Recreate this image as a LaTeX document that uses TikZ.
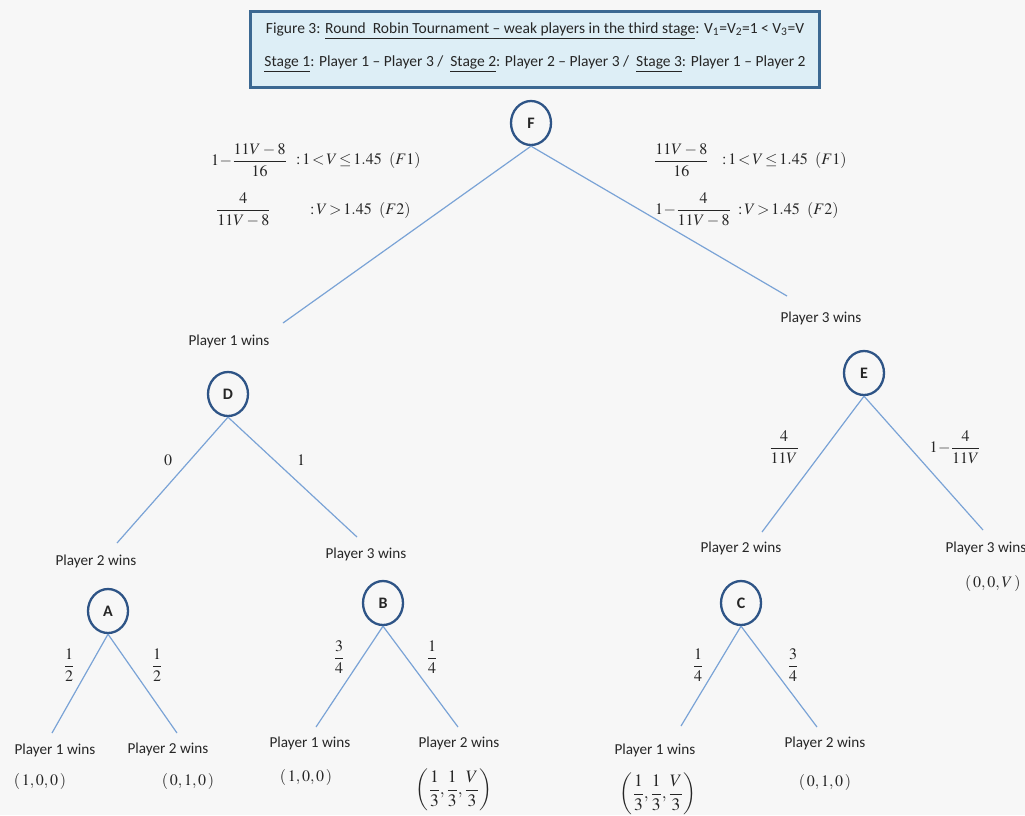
\documentclass[tikz,border=0pt]{standalone}
\usepackage{amsmath}
\usepackage{mathptmx}
\usepackage[no-math]{fontspec}
\setmainfont{Carlito}
\usetikzlibrary{shapes.geometric}
\definecolor{bg}{HTML}{F7F7F7}
\definecolor{circ}{HTML}{2E5486}
\definecolor{edgec}{HTML}{7AA3D6}
\definecolor{txt}{HTML}{262626}
\definecolor{hdrfill}{HTML}{DDEEF6}
\definecolor{hdrline}{HTML}{3B6892}
\begin{document}
\begin{tikzpicture}[x=1pt,y=-1pt,
  state/.style={ellipse, draw=circ, line width=2.3pt, minimum width=40pt, minimum height=44pt, inner sep=0pt, text=txt, font=\fontsize{16}{16}\selectfont\bfseries},
  edge/.style={draw=edgec, line width=1.2pt},
  lbl/.style={font=\fontsize{15.2}{16}\selectfont, text=txt, inner sep=0pt},
  mth/.style={font=\fontsize{16}{18}\selectfont, text=txt, inner sep=0pt},
  big/.style={font=\fontsize{17.5}{19}\selectfont, text=txt, inner sep=0pt},
  hdr/.style={font=\fontsize{15.5}{17}\selectfont, text=txt, inner sep=0pt}]
\fill[bg] (0,0) rectangle (1025,815);
\useasboundingbox (0,0) rectangle (1025,815);

% header
\node[draw=hdrline, fill=hdrfill, line width=3pt, minimum width=569pt, minimum height=76pt, inner sep=0pt] (header) at (534.5,49) {};
\node[hdr, anchor=base] (title1) at (535,33) {Figure 3: \underline{Round\ \ Robin Tournament -- weak players in the third stage}: V\textsubscript{1}=V\textsubscript{2}=1 {\textless} V\textsubscript{3}=V};
\node[hdr, anchor=base] (title2) at (535,66) {\underline{Stage 1}: Player 1 -- Player 3 /\ \ \underline{Stage 2}: Player 2 -- Player 3 /\ \ \underline{Stage 3}: Player 1 -- Player 2};

% states
\node[state] (F) at (531,123) {F};
\node[state] (D) at (228,394) {D};
\node[state] (E) at (864,373) {E};
\node[state] (A) at (108,611) {A};
\node[state] (B) at (383,603) {B};
\node[state] (C) at (741,603) {C};

% free ends
\coordinate (fl) at (283,323);
\coordinate (fr) at (787,296);
\coordinate (dl) at (117,543);
\coordinate (dr) at (357,537);
\coordinate (el) at (762,532);
\coordinate (er) at (983,530);
\coordinate (al) at (52,733);
\coordinate (ar) at (177,733);
\coordinate (bl) at (316,727);
\coordinate (br) at (458,727);
\coordinate (cl) at (681,726);
\coordinate (cr) at (817,727);

\draw[edge] (F.south) -- (fl);
\draw[edge] (F.south) -- (fr);
\draw[edge] (D.south) -- (dl);
\draw[edge] (D.south) -- (dr);
\draw[edge] (E.south) -- (el);
\draw[edge] (E.south) -- (er);
\draw[edge] (A.south) -- (al);
\draw[edge] (A.south) -- (ar);
\draw[edge] (B.south) -- (bl);
\draw[edge] (B.south) -- (br);
\draw[edge] (C.south) -- (cl);
\draw[edge] (C.south) -- (cr);

% F probabilities
\node[mth, anchor=west] (fa1) at (211,160) {$1\!-\!\dfrac{11V-8}{16}$};
\node[mth, anchor=west] (fc1) at (296,160) {$:\!1\!<\!V\!\le\!1.45\ \ (F1)$};
\node[mth, anchor=west] (fa2) at (216,210) {$\dfrac{4}{11V-8}$};
\node[mth, anchor=west] (fc2) at (310,210) {$:\!V\!>\!1.45\ \ (F2)$};
\node[mth, anchor=west] (fb1) at (654,160) {$\dfrac{11V-8}{16}$};
\node[mth, anchor=west] (fd1) at (722,160) {$:\!1\!<\!V\!\le\!1.45\ \ (F1)$};
\node[mth, anchor=west] (fb2) at (655,210) {$1\!-\!\dfrac{4}{11V-8}$};
\node[mth, anchor=west] (fd2) at (738,210) {$:\!V\!>\!1.45\ \ (F2)$};

% outcome labels
\node[lbl] (w1) at (229,341) {Player 1 wins};
\node[lbl] (w3) at (821,318) {Player 3 wins};
\node[lbl] (wd2) at (96,561) {Player 2 wins};
\node[lbl] (wd3) at (366,554) {Player 3 wins};
\node[lbl] (we2) at (741,548) {Player 2 wins};
\node[lbl] (we3) at (986,548) {Player 3 wins};
\node[lbl] (wa1) at (55,750) {Player 1 wins};
\node[lbl] (wa2) at (168,749) {Player 2 wins};
\node[lbl] (wb1) at (310,743) {Player 1 wins};
\node[lbl] (wb2) at (459,743) {Player 2 wins};
\node[lbl] (wc1) at (655,750) {Player 1 wins};
\node[lbl] (wc2) at (825,743) {Player 2 wins};

% branch probabilities
\node[mth] (pd0) at (168,460) {$0$};
\node[mth] (pd1) at (301,460) {$1$};
\node[mth] (pe2) at (784,447) {$\dfrac{4}{11V}$};
\node[mth] (pe3) at (955,447) {$1\!-\!\dfrac{4}{11V}$};
\node[mth] (pa1) at (69,665) {$\dfrac{1}{2}$};
\node[mth] (pa2) at (157,665) {$\dfrac{1}{2}$};
\node[mth] (pb1) at (339,657) {$\dfrac{3}{4}$};
\node[mth] (pb2) at (432,657) {$\dfrac{1}{4}$};
\node[mth] (pc1) at (698,665) {$\dfrac{1}{4}$};
\node[mth] (pc2) at (793,665) {$\dfrac{3}{4}$};

% payoffs
\node[mth, anchor=west] (ve3) at (965,583) {$(\,0,0,V\,)$};
\node[mth] (va1) at (40,781) {$(\,1,0,0\,)$};
\node[mth] (va2) at (188,781) {$(\,0,1,0\,)$};
\node[mth] (vb1) at (306,777) {$(\,1,0,0\,)$};
\node[big] (vb2) at (454,790) {$\left(\dfrac{1}{3},\dfrac{1}{3},\dfrac{V}{3}\right)$};
\node[big] (vc1) at (658,794) {$\left(\dfrac{1}{3},\dfrac{1}{3},\dfrac{V}{3}\right)$};
\node[mth] (vc2) at (825,782) {$(\,0,1,0\,)$};
\end{tikzpicture}
\end{document}
